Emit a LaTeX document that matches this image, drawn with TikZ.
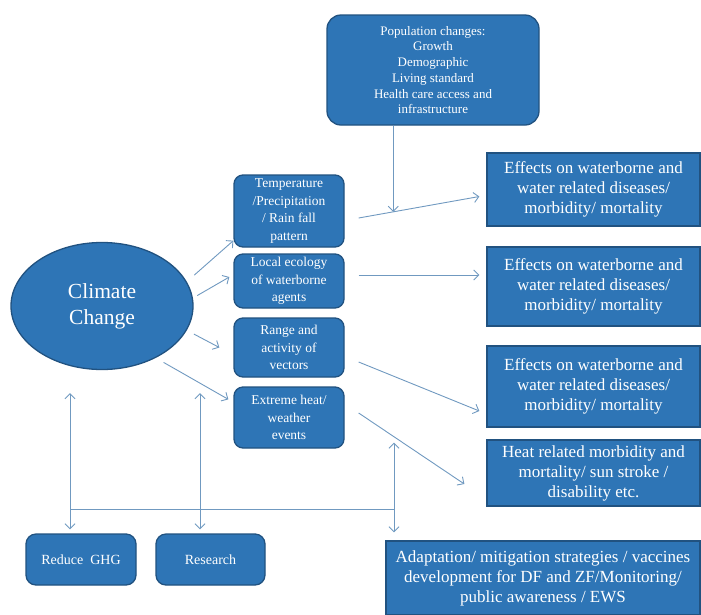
\documentclass[tikz,border=0pt]{standalone}
\usepackage{fontspec}
\setmainfont{Liberation Serif}
\usetikzlibrary{arrows.meta,shapes.geometric}
\definecolor{boxfill}{RGB}{46,117,182}
\definecolor{boxline}{RGB}{33,82,128}
\definecolor{linkcol}{RGB}{112,153,192}
\tikzset{
    box/.style={draw=boxline, line width=1.3pt, fill=boxfill, text=white, align=center, inner sep=1pt},
    popbox/.style={box, rounded corners=14pt, minimum width=212, minimum height=110, font=\fontsize{13}{15.7}\selectfont},
    climate/.style={box, ellipse, minimum width=182, minimum height=127, font=\fontsize{21.5}{26}\selectfont},
    midbox/.style={box, rounded corners=9pt, minimum width=110, font=\fontsize{13.5}{17.5}\selectfont},
    effbox/.style={box, minimum width=213, font=\fontsize{17}{20}\selectfont},
    actbox/.style={box, rounded corners=10pt, minimum height=51, font=\fontsize{14}{16}\selectfont},
    link/.style={draw=linkcol, line width=0.9pt, -{Straight Barb[length=5pt,width=10pt]}}
}
\begin{document}
\begin{tikzpicture}[x=1pt, y=-1pt]
                \useasboundingbox (0,0) rectangle (701,614);

                \node[popbox] (pop) at (433,70) {Population changes:\\Growth\\Demographic\\Living standard\\Health care access and\\infrastructure};
                \node[climate] (cc) at (102,306) {Climate\\Change};

                \node[midbox, minimum height=72] (temp) at (289,211) {Temperature\\/Precipitation\\/ Rain fall\\pattern};
                \node[midbox, minimum height=54] (local) at (289,281) {Local ecology\\of waterborne\\agents};
                \node[midbox, minimum height=59] (range) at (289,347.5) {Range and\\activity of\\vectors};
                \node[midbox, minimum height=61] (extreme) at (289,417.5) {Extreme heat/\\weather\\events};

                \node[effbox, minimum height=73] (eff1) at (593.5,189.5) {Effects on waterborne and\\water related diseases/\\morbidity/ mortality};
                \node[effbox, minimum height=79] (eff2) at (593.5,286.5) {Effects on waterborne and\\water related diseases/\\morbidity/ mortality};
                \node[effbox, minimum height=81] (eff3) at (593.5,386.5) {Effects on waterborne and\\water related diseases/\\morbidity/ mortality};
                \node[effbox, minimum height=66] (heat) at (593.5,473) {Heat related morbidity and\\mortality/ sun stroke /\\disability etc.};

                \node[actbox, minimum width=110] (ghg) at (81,559.5) {Reduce~ GHG};
                \node[actbox, minimum width=109] (res) at (210.5,559.5) {Research};
                \node[effbox, minimum width=314, minimum height=74] (adapt) at (543,578) {Adaptation/ mitigation strategies / vaccines\\development for DF and ZF/Monitoring/\\public awareness / EWS};

                \draw[link, shorten <=10pt] (cc.16) -- ([yshift=7pt]temp.south west);
                \draw[link, shorten <=5pt] (cc.5) -- ([shift={(-4pt,4pt)}]local.west);
                \draw[link, shorten <=8pt] (cc.-16) -- ([xshift=-14pt]range.west);
                \draw[link, shorten <=9pt] (cc.-44) -- ([shift={(-5pt,-13pt)}]extreme.north west);

                \draw[link] ([shift={(14pt,-7pt)}]temp.east) -- coordinate[pos=0.287] (meet) ([shift={(-7pt,-7pt)}]eff1.west);
                \draw[link] (pop.south -| meet) -- (meet);
                \draw[link] ([shift={(14pt,6pt)}]local.east) -- ([shift={(-7pt,11.5pt)}]eff2.west);
                \draw[link] ([shift={(14pt,-14.5pt)}]range.east) -- ([shift={(-7pt,-24.5pt)}]eff3.west);
                \draw[link] ([shift={(14pt,4.5pt)}]extreme.east) -- ([shift={(-22pt,-11pt)}]heat.west);

                \coordinate (b1) at (70,509);
                \coordinate (b2) at (200,509);
                \coordinate (b3) at (394,509);
                \draw[link, -] (b1) -- (b3);
                \draw[link] (b1) -- ([yshift=-23pt]cc.south -| b1);
                \draw[link] (b2) -- ([yshift=-23pt]cc.south -| b2);
                \draw[link] (b3) -- ([yshift=6pt]extreme.south -| b3);
                \draw[link, shorten >=4pt] (b1) -- (b1 |- ghg.north);
                \draw[link, shorten >=4pt] (b2) -- (b2 |- res.north);
                \draw[link, shorten >=8pt] (b3) -- (b3 |- adapt.north);
\end{tikzpicture}
\end{document}
